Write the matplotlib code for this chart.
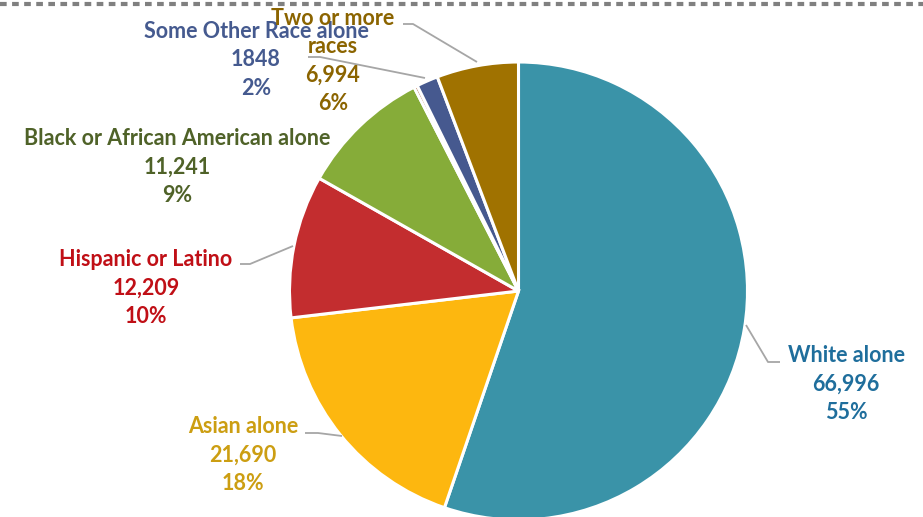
import numpy as np
import matplotlib
matplotlib.use("Agg")
from matplotlib import pyplot as plt
from matplotlib.lines import Line2D

# Population by race / ethnicity (clockwise from 12 o'clock)
groups = ["White alone", "Asian alone", "Hispanic or Latino",
          "Black or African American alone", "American Indian alone",
          "Some Other Race alone", "Two or more races"]
counts = [66996, 21690, 12209, 11241, 300, 1848, 6994]
countText = ["66,996", "21,690", "12,209", "11,241", "", "1848", "6,994"]
pctText = ["55%", "18%", "10%", "9%", "", "2%", "6%"]
labelText = ["White alone", "Asian alone", "Hispanic or Latino",
             "Black or African American alone", "",
             "Some Other Race alone", "Two or more\nraces"]

sliceColors = ["#3A93A8", "#FDB70F", "#C32D2F", "#86AC39", "#A0471A",
               "#46598F", "#A07200"]
textColors = ["#1F6E9C", "#CC9E12", "#C00F16", "#4F6228", "#A0471A",
              "#455A8F", "#8B6400"]

# Label centres and leader lines, in pixels from the top-left corner
W, H = 923, 517
labelPos = [(846, 384), (243, 455), (146, 288), (177, 167), None,
            (256, 60), (333, 61)]
leaders = [[(746, 325), (768, 362), (780, 362)],
           [(342, 436), (318, 433), (305, 433)],
           [(293, 246), (250, 264), (240, 264)],
           None, None,
           [(425, 78), (320, 57), (308, 57)],
           [(477, 62), (413, 24), (403, 24)]]

fig = plt.figure(figsize=(W / 100, H / 100), dpi=100)
ax = fig.add_axes([0, 0, 1, 1])

# Pie centre and radius in pixels
cx, cy, radius = 518.5, H - 291, 229
ax.pie(counts, colors=sliceColors, startangle=90, counterclock=False,
       center=(cx, cy), radius=radius,
       wedgeprops=dict(edgecolor="white", linewidth=2.2))
ax.set_xlim(0, W)
ax.set_ylim(0, H)
ax.set_aspect("equal")
ax.axis("off")

# Leader lines
for line in leaders:
    if line is None:
        continue
    xs = [p[0] for p in line]
    ys = [H - p[1] for p in line]
    ax.plot(xs, ys, color="#A6A6A6", lw=1.3, solid_capstyle="butt")

# Data labels
for i in range(len(groups)):
    if labelPos[i] is None:
        continue
    txt = labelText[i] + "\n" + countText[i] + "\n" + pctText[i]
    ax.text(labelPos[i][0], H - labelPos[i][1], txt, color=textColors[i],
            ha="center", va="center", multialignment="center",
            fontsize=15.5, fontweight="bold", family="Lato",
            linespacing=1.42)

# Dashed border along the top
fig.add_artist(Line2D([0, 1], [1 - 4 / H, 1 - 4 / H], transform=fig.transFigure,
                      color="#808080", lw=3, linestyle=(0, (1.6, 1.3))))

fig.savefig("out.png", dpi=100)
